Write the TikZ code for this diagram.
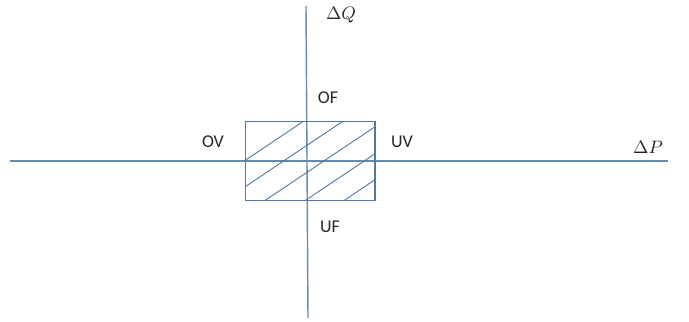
\documentclass[tikz,border=0pt]{standalone}
\usepackage{fontspec}
\setsansfont{Carlito}
\usetikzlibrary{positioning}
\definecolor{axisblue}{RGB}{95,140,180}
\definecolor{boxblue}{RGB}{80,120,160}

\begin{document}
\begin{tikzpicture}[
  x=0.5pt, y=-0.5pt,
  axis/.style={draw=axisblue, line width=0.7pt},
  zonebox/.style={draw=boxblue, line width=0.6pt, minimum width=64.6pt,
                  minimum height=39.2pt, inner sep=0pt},
  hatch/.style={draw=boxblue, line width=0.45pt},
  lbl/.style={font=\sffamily\fontsize{9}{10}\selectfont, inner sep=0pt, text=black!85},
  axlbl/.style={font=\fontsize{9}{10}\selectfont, inner sep=0pt, text=black!85},
]
\useasboundingbox (0,0) rectangle (689,321);

% axes
\coordinate (west)  at (10,161);
\coordinate (east)  at (668,161);
\coordinate (north) at (306,6);
\coordinate (south) at (308,318);
\draw[axis] (west) -- (east);
\draw[axis] (north) -- (south);

% hatched zone
\node[zonebox] (zone) at (310.3,160.9) {};
\begin{scope}
  \clip (zone.south west) rectangle (zone.north east);
  \foreach \c in {324.6,351,378,405,431}{ \draw[hatch] (200,\c-134) -- (420,\c-281.4); }
\end{scope}

% labels
\node[axlbl] (dq) at (341,15)  {$\Delta Q$};
\node[axlbl] (dp) at (648,147) {$\Delta P$};
\node[lbl]   (of) at (328,98)  {OF};
\node[lbl]   (ov) at (213,142) {OV};
\node[lbl]   (uv) at (402,142) {UV};
\node[lbl]   (uf) at (330,227) {UF};
\end{tikzpicture}
\end{document}
